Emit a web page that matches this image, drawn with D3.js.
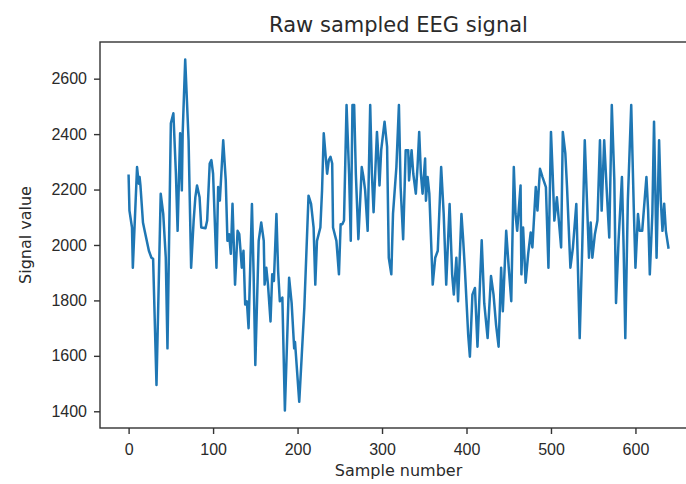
<!DOCTYPE html>
<html>
<head>
<meta charset="utf-8">
<script src="https://cdn.jsdelivr.net/npm/d3@7"></script>
<style>
  body { margin: 0; background: #fff; }
  svg { display: block; font-family: "DejaVu Sans", sans-serif; }
  .axis text { fill: #2a2a2a; font-size: 16px; }
  .axis path, .axis line { stroke: #333; stroke-width: 1.4; }
</style>
</head>
<body>
<div id="chart_area"></div>
<script>
// sample numbers and signal values
const sampleIdx = [0, 1, 4, 5, 10, 12, 13, 14, 17, 19, 24, 27, 29, 33, 38, 41, 44, 46, 50, 53,
  56, 58, 61, 63, 64, 67, 71, 74, 77, 79, 81, 84, 86, 91, 93, 96, 98, 100, 104, 106,
  108, 112, 115, 117, 119, 121, 123, 126, 129, 131, 134, 136, 138, 140, 142, 146, 148, 150, 154, 157,
  160, 161, 163, 165, 168, 170, 172, 175, 177, 179, 182, 185, 190, 193, 196, 197, 202, 205, 208, 213,
  216, 219, 221, 223, 227, 229, 231, 233, 235, 237, 239, 241, 242, 246, 249, 251, 253, 255, 258, 261,
  263, 265, 267, 269, 272, 276, 278, 280, 283, 286, 288, 290, 294, 295, 297, 299, 303, 306, 308, 311,
  313, 317, 320, 322, 325, 328, 331, 332, 335, 337, 340, 342, 344, 346, 348, 351, 352, 354, 356, 360,
  363, 366, 370, 373, 376, 380, 383, 385, 388, 390, 394, 396, 398, 400, 402, 404, 407, 410, 413, 418,
  421, 425, 429, 432, 435, 438, 441, 443, 447, 450, 453, 456, 458, 460, 464, 465, 467, 470, 473, 476,
  478, 482, 484, 487, 490, 494, 497, 500, 502, 504, 507, 512, 514, 517, 519, 523, 526, 530, 534, 537,
  540, 542, 545, 547, 549, 552, 555, 558, 560, 563, 566, 569, 572, 575, 577, 580, 584, 586, 588, 591,
  595, 598, 600, 603, 605, 608, 613, 615, 617, 620, 622, 625, 628, 630, 632, 634, 636, 639];
const signalVals = [2250, 2124, 2063, 1918, 2281, 2221, 2245, 2215, 2081, 2051, 1979, 1954, 1950, 1495, 2185, 2112, 1954, 1627, 2439, 2475,
  2257, 2051, 2403, 2197, 2403, 2669, 2378, 1918, 2088, 2172, 2215, 2172, 2063, 2060, 2088, 2294, 2306, 2257, 1918, 2209,
  2160, 2378, 2233, 2015, 2039, 1968, 2149, 1857, 2051, 2039, 1918, 1979, 1785, 1797, 1700, 2148, 1894, 1567, 2015, 2081,
  2015, 1857, 1918, 1857, 1724, 1894, 1870, 2112, 1906, 1797, 1810, 1403, 1882, 1790, 1627, 1650, 1434, 1603, 1773, 2178,
  2148, 2063, 1857, 2015, 2063, 2197, 2403, 2330, 2257, 2306, 2318, 2294, 2063, 2015, 1894, 2075, 2075, 2088, 2505, 2257,
  2015, 2505, 2505, 2257, 2021, 2281, 2245, 2197, 2051, 2505, 2257, 2118, 2408, 2354, 2215, 2342, 2445, 2354, 1954, 1894,
  2112, 2281, 2505, 2209, 2021, 2342, 2342, 2233, 2342, 2257, 2185, 2281, 2408, 2257, 2185, 2312, 2160, 2245, 2185, 1857,
  1954, 1979, 2281, 2112, 1857, 2148, 1894, 1821, 1954, 1797, 2112, 2021, 1918, 1797, 1676, 1597, 1821, 1845, 1633, 2017,
  1790, 1664, 1888, 1821, 1712, 1633, 1918, 1761, 2051, 1918, 1797, 2281, 2112, 2051, 2215, 1894, 2063, 1864, 1967, 2045,
  1991, 2209, 2124, 2275, 2245, 2209, 1918, 2408, 2257, 2088, 2172, 1991, 2408, 2330, 2209, 1918, 1991, 2148, 1664, 1991,
  2378, 2209, 1954, 2081, 1954, 2039, 2088, 2378, 2124, 2378, 2197, 2027, 2505, 2233, 1791, 2015, 2245, 1991, 1664, 2160,
  2505, 2136, 1918, 2112, 2051, 2051, 2245, 2124, 1894, 2112, 2445, 1954, 2378, 2160, 2051, 2149, 2051, 1991];

const xTicks = [0, 100, 200, 300, 400, 500, 600];
const yTicks = [1400, 1600, 1800, 2000, 2200, 2400, 2600];
const titleText = 'Raw sampled EEG signal';
const xLabel = 'Sample number';
const yLabel = 'Signal value';

const data = sampleIdx.map((s, k) => ({ s: s, v: signalVals[k] }));

// page size and plot box
const W = 686, H = 484;
const margin = { top: 42, right: -11, bottom: 56, left: 100 };
const width = W - margin.left - margin.right;
const height = H - margin.top - margin.bottom;

// matplotlib-like padding around the data
const xExt = d3.extent(data, d => d.s);
const yExt = d3.extent(data, d => d.v);
const xPad = (xExt[1] - xExt[0]) * 0.053;
const yPad = (yExt[1] - yExt[0]) * 0.05;

const x = d3.scaleLinear().domain([xExt[0] - xPad, xExt[1] + xPad]).range([0, width]);
const y = d3.scaleLinear().domain([yExt[0] - yPad, yExt[1] + yPad]).range([height, 0]);

const svg = d3.select('#chart_area')
  .append('svg')
  .attr('width', W)
  .attr('height', H);

svg.append('rect').attr('width', W).attr('height', H).attr('fill', '#fff');

const g = svg.append('g')
  .attr('transform', 'translate(' + margin.left + ',' + margin.top + ')');

// the signal
g.append('path')
  .datum(data)
  .attr('fill', 'none')
  .attr('stroke', '#1f77b4')
  .attr('stroke-width', 2.5)
  .attr('stroke-linejoin', 'round')
  .attr('stroke-linecap', 'square')
  .attr('d', d3.line().x(d => x(d.s)).y(d => y(d.v)));

// frame (spines)
g.append('rect')
  .attr('width', width)
  .attr('height', height)
  .attr('fill', 'none')
  .attr('stroke', '#333')
  .attr('stroke-width', 1.4);

// axes
g.append('g')
  .attr('class', 'axis')
  .attr('transform', 'translate(0,' + height + ')')
  .call(d3.axisBottom(x).tickValues(xTicks).tickFormat(d3.format('d'))
    .tickSize(6).tickPadding(10).tickSizeOuter(0))
  .call(a => a.select('.domain').remove());

g.append('g')
  .attr('class', 'axis')
  .call(d3.axisLeft(y).tickValues(yTicks).tickFormat(d3.format('d'))
    .tickSize(6).tickPadding(7).tickSizeOuter(0))
  .call(a => a.select('.domain').remove());

// title and axis labels
svg.append('text')
  .attr('x', margin.left + width / 2)
  .attr('y', 32)
  .attr('text-anchor', 'middle')
  .attr('fill', '#2a2a2a')
  .attr('font-size', '21px')
  .text(titleText);

svg.append('text')
  .attr('x', margin.left + width / 2)
  .attr('y', 476)
  .attr('text-anchor', 'middle')
  .attr('fill', '#2a2a2a')
  .attr('font-size', '16px')
  .text(xLabel);

svg.append('text')
  .attr('transform', 'translate(31,' + (margin.top + height / 2) + ') rotate(-90)')
  .attr('text-anchor', 'middle')
  .attr('fill', '#2a2a2a')
  .attr('font-size', '16px')
  .text(yLabel);
</script>
</body>
</html>
